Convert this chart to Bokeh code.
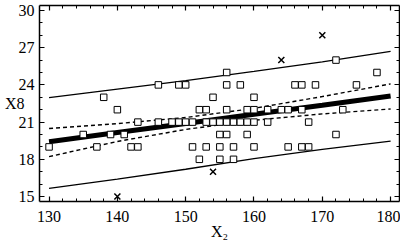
from bokeh.plotting import figure
from bokeh.models import LinearAxis, SingleIntervalTicker, CustomJSTickFormatter
from bokeh.embed import file_html
from bokeh.resources import INLINE

# ---- data ----
sq_x = [156, 178,
        146, 149, 150, 156, 158, 166, 167, 169, 175,
        172,
        138, 154, 160,
        140, 152, 153, 156, 159, 160, 162, 164, 165, 167, 173,
        143, 146, 148, 149, 150, 151, 153, 154, 155, 156, 157, 158, 159, 160, 162, 168,
        135, 139, 141, 155, 156, 159, 172,
        130, 137, 142, 143, 151, 153, 155, 157, 160, 165, 167, 168,
        152, 155, 157]
sq_y = [25, 25,
        24, 24, 24, 24, 24, 24, 24, 24, 24,
        26,
        23, 23, 23,
        22, 22, 22, 22, 22, 22, 22, 22, 22, 22, 22,
        21, 21, 21, 21, 21, 21, 21, 21, 21, 21, 21, 21, 21, 21, 21, 21,
        20, 20, 20, 20, 20, 20, 20,
        19, 19, 19, 19, 19, 19, 19, 19, 19, 19, 19, 19,
        18, 18, 18]
out_x = [140, 154, 164, 170]
out_y = [15, 17, 26, 28]

band_x = [130, 140, 150, 160, 170, 180]
fit_y = [19.42, 20.16, 20.89, 21.63, 22.36, 23.10]
ci_hi = [20.48, 20.88, 21.37, 22.11, 23.06, 24.08]
ci_lo = [18.22, 19.44, 20.41, 21.15, 21.66, 22.06]
pi_hi = [22.97, 23.66, 24.35, 25.09, 25.86, 26.70]
pi_lo = [15.65, 16.40, 17.20, 18.05, 18.80, 19.47]

x_title = "X₂"
y_title = "X8"

FONT = "Liberation Serif"

p = figure(width=400, height=242, x_range=(128.6, 181.3), y_range=(14.6, 30.4),
           output_backend="svg", toolbar_location=None,
           min_border_left=39, min_border_right=1, min_border_top=5, min_border_bottom=41)
p.grid.visible = False
p.outline_line_color = None
p.background_fill_color = "white"
p.border_fill_color = "white"

def style_axis(ax, ticker, labels=True):
    ax.ticker = ticker
    ax.axis_line_width = 1.5
    ax.axis_line_color = "black"
    ax.major_tick_in = 5
    ax.major_tick_out = 0
    ax.minor_tick_in = 3
    ax.minor_tick_out = 0
    ax.major_tick_line_color = "black"
    ax.minor_tick_line_color = "black"
    ax.major_tick_line_width = 1.2
    ax.minor_tick_line_width = 1
    if labels:
        ax.major_label_text_font = FONT
        ax.major_label_text_font_size = "16px"
        ax.major_label_text_color = "black"
        ax.axis_label_text_font = FONT
        ax.axis_label_text_font_size = "16px"
        ax.axis_label_text_font_style = "normal"
        ax.axis_label_text_color = "black"
    else:
        ax.formatter = CustomJSTickFormatter(code="return ''")
        ax.major_label_text_font_size = "1px"
        ax.major_label_standoff = 0

xt = lambda: SingleIntervalTicker(interval=10, num_minor_ticks=5)
yt = lambda: SingleIntervalTicker(interval=3, num_minor_ticks=3)

xa = p.xaxis[0]
style_axis(xa, xt())
xa.major_label_standoff = 9
xa.axis_label = x_title
xa.axis_label_standoff = -2

ya = p.yaxis[0]
style_axis(ya, yt())
ya.major_label_standoff = 5
ya.axis_label = y_title
ya.axis_label_orientation = "horizontal"
ya.axis_label_standoff = -9

top = LinearAxis()
style_axis(top, xt(), labels=False)
p.add_layout(top, "above")
right = LinearAxis()
style_axis(right, yt(), labels=False)
p.add_layout(right, "right")

# bands and fit
p.line(band_x, pi_hi, line_color="black", line_width=1.3)
p.line(band_x, pi_lo, line_color="black", line_width=1.3)
p.line(band_x, ci_hi, line_color="black", line_width=1.4, line_dash="4 3")
p.line(band_x, ci_lo, line_color="black", line_width=1.4, line_dash="4 3")
p.line(band_x, fit_y, line_color="black", line_width=5)

p.scatter(sq_x, sq_y, marker="square", size=6.5, fill_color="white",
          line_color="black", line_width=1)
p.scatter(out_x, out_y, marker="x", size=8.5, line_color="black", line_width=1.5)

open("out.html", "w").write(file_html(p, INLINE))
